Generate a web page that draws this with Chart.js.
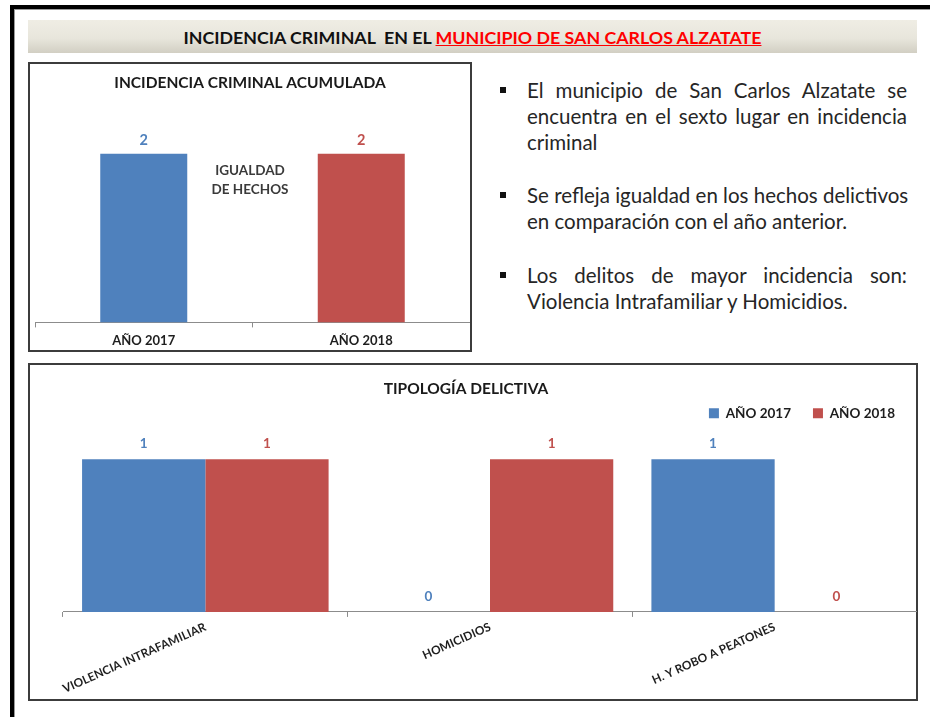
<!DOCTYPE html>
<html>
<head>
<meta charset="utf-8">
<script src="https://cdn.jsdelivr.net/npm/chart.js@4/dist/chart.umd.min.js"></script>
<style>
  html, body { margin:0; padding:0; background:#fff; }
  body { width:930px; height:717px; position:relative; overflow:hidden; font-family:Lato, "Open Sans", sans-serif; }
  .frameTop { position:absolute; left:10px; top:5px; width:920px; height:4px; background:#000; }
  .frameTopIn { position:absolute; left:14px; top:9px; width:916px; height:1px; background:#9a9a9a; }
  .frameLeft { position:absolute; left:10px; top:5px; width:4px; height:712px; background:#000; }
  .frameLeftIn { position:absolute; left:14px; top:9px; width:1px; height:708px; background:#9a9a9a; }
  .banner { position:absolute; left:28px; top:20px; width:889px; height:33px;
    background:linear-gradient(#EFEDE4 0%, #E8E6DC 55%, #D2CFC3 100%);
    display:flex; align-items:center; justify-content:center;
    font-weight:bold; font-size:17.8px; color:#111; white-space:pre; }
  .banner .red { color:#FF0000; text-decoration:underline; }
  .box { position:absolute; box-sizing:border-box; border:2px solid #3c3c3c; background:#fff; }
  canvas { position:absolute; }
  .note { position:absolute; left:190px; top:161px; width:120px; text-align:center;
    font-weight:bold; font-size:13.5px; line-height:19px; color:#3a3a3a; }
  .para { position:absolute; left:527px; width:380px; font-size:20.5px; line-height:26px; color:#262626; }
  .ln { white-space:nowrap; }
  .ln.j { text-align:justify; text-align-last:justify; }
  .bullet { position:absolute; left:-27px; top:10px; width:6px; height:6px; background:#111; }
</style>
</head>
<body>
<div class="frameTop"></div><div class="frameTopIn"></div>
<div class="frameLeft"></div><div class="frameLeftIn"></div>

<div class="banner">INCIDENCIA CRIMINAL  EN EL <span class="red">MUNICIPIO DE SAN CARLOS ALZATATE</span></div>

<div class="box" style="left:28px; top:62px; width:444px; height:290px;"></div>
<canvas id="c1" width="440" height="291" style="left:30px; top:64px;"></canvas>
<div class="note">IGUALDAD<br>DE HECHOS</div>

<div class="para" style="top:77px;"><div class="bullet"></div>
  <div class="ln j">El municipio de San Carlos Alzatate se</div>
  <div class="ln j">encuentra en el sexto lugar en incidencia</div>
  <div class="ln">criminal</div>
</div>
<div class="para" style="top:182px;"><div class="bullet"></div>
  <div class="ln j">Se refleja igualdad en los hechos delictivos</div>
  <div class="ln">en comparación con el año anterior.</div>
</div>
<div class="para" style="top:262px;"><div class="bullet"></div>
  <div class="ln j">Los delitos de mayor incidencia son:</div>
  <div class="ln">Violencia Intrafamiliar y Homicidios.</div>
</div>

<div class="box" style="left:28px; top:363px; width:890px; height:338px;"></div>
<canvas id="c2" width="902" height="334" style="left:15px; top:365px;"></canvas>

<script>
// ---- data ----
const accCategories = ['AÑO 2017', 'AÑO 2018'];
const accValues = [2, 2];
const typeCategories = ['VIOLENCIA INTRAFAMILIAR', 'HOMICIDIOS', 'H. Y ROBO A PEATONES'];
const seriesNames = ['AÑO 2017', 'AÑO 2018'];
const values2017 = [1, 0, 1];
const values2018 = [1, 1, 0];

// ---- styles ----
const BLUE = '#4F81BD';
const RED = '#C0504D';
const AXIS = '#8c8c8c';

Chart.defaults.font.family = 'Lato, "Open Sans", sans-serif';
Chart.defaults.color = '#1e1e1e';
Chart.defaults.animation = false;

const valueLabels = {
  id: 'valueLabels',
  afterDatasetsDraw(chart, args, opts) {
    const ctx = chart.ctx;
    chart.data.datasets.forEach((ds, di) => {
      const meta = chart.getDatasetMeta(di);
      meta.data.forEach((el, i) => {
        const c = opts.colors[di];
        ctx.save();
        ctx.fillStyle = Array.isArray(c) ? c[i] : c;
        ctx.font = opts.font;
        ctx.textAlign = 'center';
        ctx.textBaseline = 'middle';
        ctx.fillText(String(ds.data[i]), el.x, el.y - opts.offset);
        ctx.restore();
      });
    });
  }
};

function hiddenY(max, width) {
  return {
    display: true, min: 0, max: max,
    grid: { display: false }, border: { display: false }, ticks: { display: false },
    afterFit(scale) { scale.width = width; }
  };
}

new Chart(document.getElementById('c1'), {
  type: 'bar',
  data: {
    labels: accCategories,
    datasets: [{ data: accValues, backgroundColor: [BLUE, RED], barPercentage: 0.4, categoryPercentage: 1 }]
  },
  plugins: [valueLabels],
  options: {
    responsive: false,
    layout: { padding: 0 },
    plugins: {
      legend: { display: false },
      tooltip: { enabled: false },
      title: { display: true, text: 'INCIDENCIA CRIMINAL ACUMULADA', color: '#1a1a1a',
        font: { size: 15.5, weight: 'bold' }, padding: { top: 10, bottom: 19 } },
      valueLabels: { colors: [[BLUE, RED]], font: 'bold 14.5px Lato', offset: 13 }
    },
    scales: {
      y: hiddenY(2.5, 5),
      x: {
        grid: { display: true, drawOnChartArea: false, drawTicks: true, tickLength: 5, color: AXIS },
        border: { display: true, color: AXIS },
        ticks: { padding: 6, color: '#1e1e1e', font: { size: 13, weight: 'bold' } }
      }
    }
  }
});

new Chart(document.getElementById('c2'), {
  type: 'bar',
  data: {
    labels: typeCategories,
    datasets: [
      { label: seriesNames[0], data: values2017, backgroundColor: BLUE, barPercentage: 1, categoryPercentage: 0.866 },
      { label: seriesNames[1], data: values2018, backgroundColor: RED, barPercentage: 1, categoryPercentage: 0.866 }
    ]
  },
  plugins: [valueLabels],
  options: {
    responsive: false,
    layout: { padding: 0 },
    plugins: {
      tooltip: { enabled: false },
      title: { display: true, text: 'TIPOLOGÍA DELICTIVA', color: '#1a1a1a',
        font: { size: 15.5, weight: 'bold' }, padding: { top: 15, bottom: -14 } },
      legend: { display: true, position: 'top', align: 'end',
        labels: { boxWidth: 10, boxHeight: 10, padding: 22, color: '#1e1e1e', font: { size: 13.5, weight: 'bold' } } },
      valueLabels: { colors: [BLUE, RED], font: 'bold 13.5px Lato', offset: 15 }
    },
    scales: {
      y: hiddenY(1.19, 48),
      x: {
        grid: { display: true, drawOnChartArea: false, drawTicks: true, tickLength: 5, color: AXIS },
        border: { display: true, color: AXIS },
        ticks: { autoSkip: false, minRotation: 24, maxRotation: 24, padding: 3, color: '#1e1e1e',
          font: { size: 11.8, weight: 'bold' } }
      }
    }
  }
});
</script>
</body>
</html>
